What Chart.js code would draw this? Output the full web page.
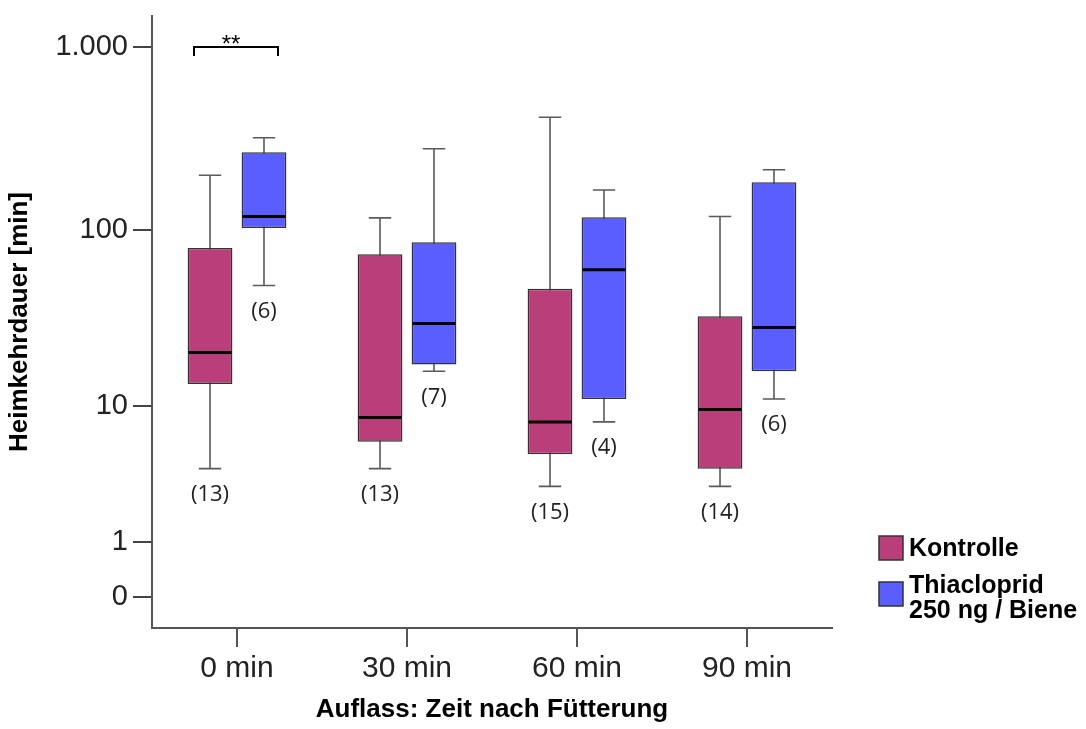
<!DOCTYPE html>
<html lang="de">
<head>
  <meta charset="UTF-8">
  <title>Heimkehrdauer</title>
  <script src="https://cdn.jsdelivr.net/npm/chart.js"></script>
  <style>
    html, body { margin: 0; padding: 0; background: #fff; }
    #wrap { width: 1086px; height: 729px; position: relative; }
  </style>
</head>
<body>
  <div id="wrap"><canvas id="box-chart"></canvas></div>

  <script>
    // data (minutes)
    const categories = ['0 min', '30 min', '60 min', '90 min'];
    const seriesNames = ['Kontrolle', 'Thiacloprid\n250 ng / Biene'];
    const seriesColors = ['#BA3E7A', '#5A5EFF'];

    const kontrolleMin    = [4.0, 4.0, 3.0, 3.0];
    const kontrolleQ1     = [13.5, 6.0, 5.0, 4.0];
    const kontrolleMedian = [20.5, 8.5, 8.0, 9.5];
    const kontrolleQ3     = [79, 73, 47, 33];
    const kontrolleMax    = [199, 116, 413, 118];
    const kontrolleN      = [13, 13, 15, 14];

    const thiaMin    = [49, 16, 8.0, 11];
    const thiaQ1     = [102, 17.5, 11, 16];
    const thiaMedian = [118, 30, 60, 28.5];
    const thiaQ3     = [266, 85, 117, 182];
    const thiaMax    = [319, 278, 165, 213];
    const thiaN      = [6, 7, 4, 6];

    const yTickValues = [0, 1, 10, 100, 1000];
    const yTickLabels = ['0', '1', '10', '100', '1.000'];

    // significance bracket over the 0 min group
    const sigCategory = 0;
    const sigLabel = '**';
    const sigLevel = 1000;

    // axis is log10(x + 1)
    const tf = v => Math.log10(v + 1);

    const boxes = [
      { min: kontrolleMin, q1: kontrolleQ1, med: kontrolleMedian, q3: kontrolleQ3, max: kontrolleMax, n: kontrolleN },
      { min: thiaMin, q1: thiaQ1, med: thiaMedian, q3: thiaQ3, max: thiaMax, n: thiaN }
    ];

    const boxPlugin = {
      id: 'boxExtras',
      beforeDatasetsDraw(chart) {
        // whiskers sit behind the boxes
        const ctx = chart.ctx, y = chart.scales.y;
        ctx.save();
        ctx.strokeStyle = '#5a5a5a';
        ctx.lineWidth = 1.6;
        boxes.forEach((b, di) => {
          chart.getDatasetMeta(di).data.forEach((bar, i) => {
            const cap = bar.width / 4;
            const yMin = y.getPixelForValue(tf(b.min[i]));
            const yMax = y.getPixelForValue(tf(b.max[i]));
            ctx.beginPath();
            ctx.moveTo(bar.x, yMin); ctx.lineTo(bar.x, yMax);
            ctx.moveTo(bar.x - cap, yMin); ctx.lineTo(bar.x + cap, yMin);
            ctx.moveTo(bar.x - cap, yMax); ctx.lineTo(bar.x + cap, yMax);
            ctx.stroke();
          });
        });
        ctx.restore();
      },
      afterDatasetsDraw(chart) {
        const ctx = chart.ctx, y = chart.scales.y, x = chart.scales.x;
        ctx.save();
        boxes.forEach((b, di) => {
          chart.getDatasetMeta(di).data.forEach((bar, i) => {
            const half = bar.width / 2;
            const ym = y.getPixelForValue(tf(b.med[i]));
            ctx.strokeStyle = '#000';
            ctx.lineWidth = 3;
            ctx.beginPath();
            ctx.moveTo(bar.x - half + 1, ym); ctx.lineTo(bar.x + half - 1, ym);
            ctx.stroke();
            // n labels
            const yMin = y.getPixelForValue(tf(b.min[i]));
            ctx.fillStyle = '#222';
            ctx.font = '22px "Open Sans", sans-serif';
            ctx.textAlign = 'center';
            ctx.textBaseline = 'middle';
            ctx.fillText('(' + b.n[i] + ')', bar.x, yMin + 26);
          });
        });

        // bracket
        const cx = x.getPixelForValue(sigCategory);
        const yb = y.getPixelForValue(tf(sigLevel));
        ctx.strokeStyle = '#000';
        ctx.lineWidth = 2;
        ctx.beginPath();
        ctx.moveTo(cx - 43, yb + 9);
        ctx.lineTo(cx - 43, yb);
        ctx.lineTo(cx + 41, yb);
        ctx.lineTo(cx + 41, yb + 9);
        ctx.stroke();
        ctx.fillStyle = '#000';
        ctx.font = '24px "Liberation Sans", Arial, sans-serif';
        ctx.textAlign = 'center';
        ctx.textBaseline = 'alphabetic';
        ctx.fillText(sigLabel, cx - 6, yb + 5);

        // legend
        const lx = 879, ly = [536, 582];
        ctx.font = 'bold 25px "Liberation Sans", Arial, sans-serif';
        ctx.textAlign = 'left';
        ctx.textBaseline = 'middle';
        seriesNames.forEach((name, k) => {
          ctx.fillStyle = seriesColors[k];
          ctx.fillRect(lx, ly[k], 24, 24);
          ctx.strokeStyle = '#333';
          ctx.lineWidth = 1.5;
          ctx.strokeRect(lx, ly[k], 24, 24);
          ctx.fillStyle = '#000';
          const lines = name.split('\n');
          const y0 = lines.length === 1 ? ly[k] + 13 : ly[k] + 4;
          lines.forEach((ln, j) => ctx.fillText(ln, lx + 30, y0 + j * 25));
        });
        ctx.restore();
      }
    };

    const datasets = boxes.map((b, di) => ({
      label: seriesNames[di],
      data: b.q1.map((q, i) => [tf(q), tf(b.q3[i])]),
      backgroundColor: seriesColors[di],
      borderColor: '#333',
      borderWidth: 1.5,
      borderSkipped: false,
      categoryPercentage: 0.635,
      barPercentage: 0.83
    }));

    const ctx = document.getElementById('box-chart').getContext('2d');
    new Chart(ctx, {
      type: 'bar',
      data: { labels: categories, datasets: datasets },
      options: {
        responsive: true,
        maintainAspectRatio: false,
        animation: false,
        events: [],
        layout: { padding: { top: 16, right: 254, left: 0, bottom: 0 } },
        plugins: { legend: { display: false }, tooltip: { enabled: false } },
        scales: {
          x: {
            grid: { offset: false, drawOnChartArea: false, tickLength: 19, color: '#555', lineWidth: 2 },
            border: { color: '#555', width: 2 },
            ticks: { color: '#222', font: { family: '"Liberation Sans", Arial, sans-serif', size: 30 }, padding: 4 },
            title: { display: true, text: 'Auflass: Zeit nach Fütterung', color: '#000',
                     font: { family: '"Liberation Sans", Arial, sans-serif', size: 26, weight: 'bold' }, padding: { top: 0 } },
            afterFit(scale) { scale.height = 101; scale.paddingLeft = 0; scale.paddingRight = 0; }
          },
          y: {
            min: -0.171,
            max: 3.170,
            afterBuildTicks(scale) { scale.ticks = yTickValues.map(v => ({ value: tf(v) })); },
            grid: { drawOnChartArea: false, tickLength: 19, color: '#444', lineWidth: 2 },
            border: { color: '#555', width: 2 },
            ticks: {
              color: '#222',
              padding: 5,
              font: { family: '"Liberation Sans", Arial, sans-serif', size: 29 },
              callback(value, idx) { return yTickLabels[idx]; }
            },
            title: { display: true, text: 'Heimkehrdauer [min]', color: '#000',
                     font: { family: '"Liberation Sans", Arial, sans-serif', size: 26, weight: 'bold' }, padding: { bottom: 0 } },
            afterFit(scale) { scale.width = 152; scale.paddingTop = 0; scale.paddingBottom = 0; }
          }
        }
      },
      plugins: [boxPlugin]
    });
  </script>
</body>
</html>
